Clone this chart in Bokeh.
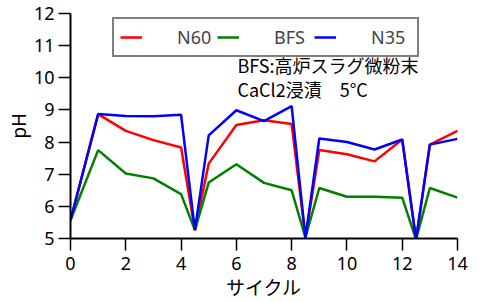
from bokeh.plotting import figure
from bokeh.models import Legend, LegendItem, Label, FixedTicker, Range1d
from bokeh.embed import file_html
from bokeh.resources import INLINE

cycle = [0, 1, 2, 3, 4, 4.5, 5, 6, 7, 8, 8.5, 9, 10, 11, 12, 12.5, 13, 14]
n60 = [5.57, 8.87, 8.35, 8.06, 7.83, 5.26, 7.33, 8.53, 8.68, 8.56, 5.03, 7.75, 7.62, 7.40, 8.08, 4.97, 7.92, 8.35]
bfs = [5.57, 7.75, 7.02, 6.87, 6.38, 5.26, 6.74, 7.31, 6.73, 6.50, 5.03, 6.57, 6.30, 6.30, 6.27, 4.97, 6.57, 6.27]
n35 = [5.57, 8.87, 8.81, 8.80, 8.85, 5.26, 8.21, 8.99, 8.65, 9.12, 5.03, 8.11, 8.00, 7.77, 8.08, 4.97, 7.92, 8.10]
x_ticks = [0, 2, 4, 6, 8, 10, 12, 14]
y_ticks = [5, 6, 7, 8, 9, 10, 11, 12]

FONT = "'Noto Sans', 'Noto Sans CJK JP', sans-serif"
JFONT = "'Noto Sans CJK JP', sans-serif"

p = figure(width=494, height=302, output_backend="svg", toolbar_location=None,
           x_range=Range1d(0, 14), y_range=Range1d(5, 12),
           min_border_left=69, min_border_right=37, min_border_top=13, min_border_bottom=64)
p.outline_line_color = None
p.xgrid.visible = False
p.ygrid.visible = False
p.background_fill_color = "white"
p.border_fill_color = "white"

r1 = p.line(cycle, n60, line_color="#ff0000", line_width=2.5)
r2 = p.line(cycle, bfs, line_color="#008000", line_width=2.5)
r3 = p.line(cycle, n35, line_color="#0000ff", line_width=2.5)

for ax in (p.xaxis[0], p.yaxis[0]):
    ax.axis_line_width = 2
    ax.axis_line_color = "black"
    ax.major_tick_out = 12
    ax.major_tick_in = 0
    ax.major_tick_line_width = 1.5
    ax.minor_tick_line_color = None
    ax.major_label_text_font = FONT
    ax.major_label_text_font_size = "18px"
    ax.major_label_text_color = "black"
    ax.axis_label_text_font = JFONT
    ax.axis_label_text_font_size = "19px"
    ax.axis_label_text_font_style = "normal"
    ax.axis_label_text_color = "black"

p.xaxis[0].ticker = FixedTicker(ticks=x_ticks)
p.yaxis[0].ticker = FixedTicker(ticks=y_ticks)
p.xaxis[0].axis_label = "サイクル"
p.yaxis[0].axis_label = "pH"
p.xaxis[0].major_label_standoff = 6
p.xaxis[0].axis_label_standoff = 0
p.yaxis[0].major_label_standoff = 4
p.yaxis[0].axis_label_standoff = 0

legend = Legend(items=[LegendItem(label="N60", renderers=[r1]),
                       LegendItem(label="BFS", renderers=[r2]),
                       LegendItem(label="N35", renderers=[r3])],
                orientation="horizontal", location=(42, 181))
legend.border_line_color = "black"
legend.border_line_width = 2
legend.background_fill_alpha = 1
legend.label_text_font = FONT
legend.label_text_font_size = "18px"
legend.glyph_width = 22
legend.label_standoff = 35
legend.label_width = 40
legend.spacing = 0
legend.padding = 6
legend.margin = 0
legend.label_height = 22
legend.glyph_height = 22
p.add_layout(legend, "center")

lab1 = Label(x=6.04, y=10.40, text="BFS:高炉スラグ微粉末", text_font=JFONT,
             text_font_size="18px", text_baseline="middle", text_color="black")
lab2 = Label(x=6.04, y=9.64, text="CaCl2浸漬　5°C", text_font=JFONT,
             text_font_size="18px", text_baseline="middle", text_color="black")
p.add_layout(lab1)
p.add_layout(lab2)

open("out.html", "w").write(file_html(p, INLINE))
